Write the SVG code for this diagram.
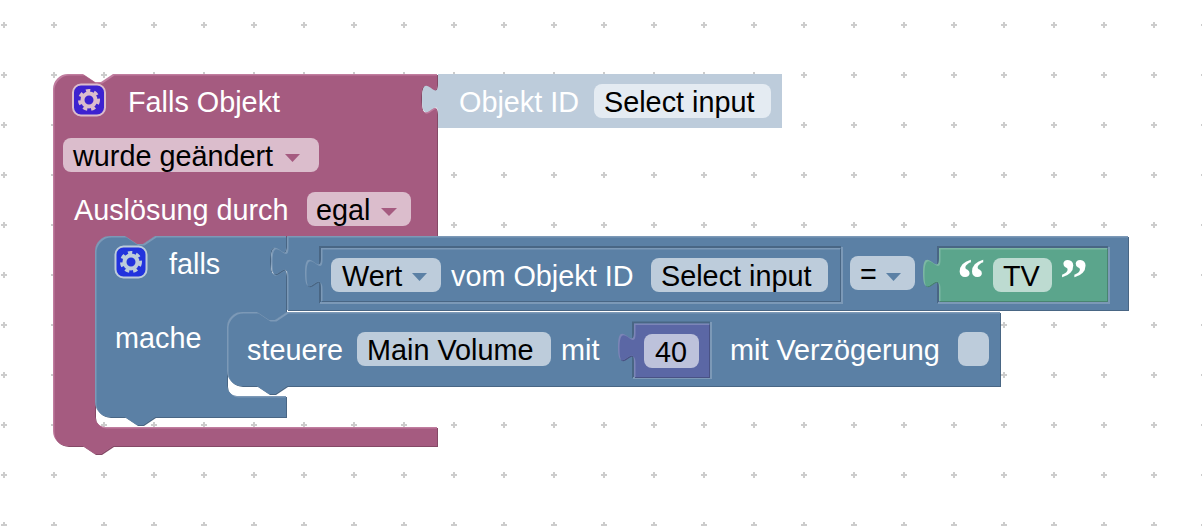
<svg xmlns="http://www.w3.org/2000/svg" width="1202" height="526" viewBox="0 0 1202 526">
<style>
text{font-family:"Liberation Sans",Arial,sans-serif;font-size:28.8px}
.w{fill:#fff}.k{fill:#000}
.pd{fill:#844966}.pl{fill:#c07d9f}.pm{fill:#a55b80}.pf{fill:#dbbdcc}.pa{fill:#a55b80}
.bd{fill:#496684}.bl{fill:#7c99b7}.bm{fill:#5b80a5}.bf{fill:#bdccdb}.ba{fill:#5b80a5}
.ud{fill:#495284}.ul{fill:#7c85b7}.um{fill:#5b67a5}.uf{fill:#bdc2db}
.gd{fill:#498470}.gl{fill:#7cb7a3}.gm{fill:#5ba58c}.gf{fill:#bddbd1}
.hd{fill:none;stroke:#496684;stroke-width:2}.hl{fill:none;stroke:#7c99b7;stroke-width:2}
.gear{fill:none;stroke-width:4}
.teeth{fill:none;stroke-width:4;stroke-dasharray:4.1 3.75}
.q{font-family:"Liberation Serif",serif;font-weight:bold;font-size:56px}
</style>
<defs>
<pattern id="grid" patternUnits="userSpaceOnUse" x="-21" y="0" width="50" height="50">
<path d="M22 25H28M25 22V28" stroke="#ccc" stroke-width="2" fill="none"/>
</pattern>
<path id="p-trigger" d="M53,89a15,15 0 0 1 15,-15H83l12,8h6l12,-8H437V84c0,20 -16,-16 -16,15s16,-5 16,15V236H155l-12,8h-6l-12,-8H110a15,15 0 0 0 -15,15V417a10,10 0 0 0 10,10H437V446H113l-12,8h-6l-12,-8H68a15,15 0 0 1 -15,-15z"/>
<path id="p-falls" d="M95,251a15,15 0 0 1 15,-15H125l12,8h6l12,-8H286V246c0,20 -16,-16 -16,15s16,-5 16,15V312h1l-12,8h-6l-12,-8H242a15,15 0 0 0 -15,15V386a10,10 0 0 0 10,10H286V417H155l-12,8h-6l-12,-8H110a15,15 0 0 1 -15,-15z"/>
<path id="p-compare" d="M287,236H1128V310H287V276c0,-20 -16,16 -16,-15s16,5 16,-15z"/>
<path id="p-wert" d="M321,248H840V301H321V288c0,-20 -16,16 -16,-15s16,5 16,-15z"/>
<path id="p-tv" d="M939,248H1107V301H939V288c0,-20 -16,16 -16,-15s16,5 16,-15z"/>
<path id="p-steuere" d="M227,327a15,15 0 0 1 15,-15H257l12,8h6l12,-8H1000V386H287l-12,8h-6l-12,-8H242a15,15 0 0 1 -15,-15z"/>
<path id="p-40" d="M634,323.500H709V377H634V362c0,-20 -16,16 -16,-15s16,5 16,-15z"/>
<clipPath id="c-trigger"><use href="#p-trigger"/></clipPath>
<clipPath id="c-falls"><use href="#p-falls"/></clipPath>
<clipPath id="c-compare"><use href="#p-compare"/></clipPath>
<clipPath id="c-wert"><use href="#p-wert"/></clipPath>
<clipPath id="c-tv"><use href="#p-tv"/></clipPath>
<clipPath id="c-steuere"><use href="#p-steuere"/></clipPath>
<clipPath id="c-40"><use href="#p-40"/></clipPath>
</defs>
<rect id="grid-bg" width="1202" height="526" fill="#fff"/>
<rect width="1202" height="526" fill="url(#grid)"/>

<g id="node-trigger">
<use href="#p-trigger" class="pd" transform="translate(1,1)"/>
<use href="#p-trigger" class="pl"/>
<g clip-path="url(#c-trigger)"><use href="#p-trigger" class="pm" transform="translate(1.5,1.5)"/></g>
<rect x="73" y="84.500" width="32" height="31" rx="8" fill="#3d22d0" stroke="#dbbdcc" stroke-width="2"/>
<circle cx="89" cy="100" r="6.500" class="gear" stroke="#dbbdcc"/>
<circle cx="89" cy="100" r="9" class="teeth" stroke="#dbbdcc"/>
<text x="128" y="112" class="w">Falls Objekt</text>
<rect x="63" y="138" width="256" height="34" rx="8" class="pf"/>
<text x="73" y="166" class="k">wurde geändert</text>
<path d="M285,154h15l-7.500,8z" class="pa"/>
<text x="74" y="220" class="w">Auslösung durch</text>
<rect x="307" y="192" width="104" height="34" rx="8" class="pf"/>
<text x="316" y="220" class="k">egal</text>
<path d="M381,208h16l-8,8z" class="pa"/>
</g>

<g id="node-objekt-id">
<path d="M438,74H782V128H438V114c0,-20 -16,16 -16,-15s16,5 16,-15z" fill="#bdccdb"/>
<text x="459" y="112" class="w">Objekt ID</text>
<rect x="594" y="84" width="177" height="34" rx="8" fill="#e4ebf2"/>
<text x="604" y="112" class="k">Select input</text>
</g>

<g id="node-falls">
<use href="#p-falls" class="bd" transform="translate(1,1)"/>
<use href="#p-falls" class="bl"/>
<g clip-path="url(#c-falls)"><use href="#p-falls" class="bm" transform="translate(1.5,1.5)"/></g>
<rect x="115.500" y="246.500" width="31" height="31" rx="8" fill="#2233dd" stroke="#bdccdb" stroke-width="2"/>
<circle cx="131" cy="262" r="6.500" class="gear" stroke="#bdccdb"/>
<circle cx="131" cy="262" r="9" class="teeth" stroke="#bdccdb"/>
<text x="169" y="274" class="w">falls</text>
<text x="115" y="348" class="w">mache</text>
</g>

<g id="node-compare">
<use href="#p-compare" class="bd" transform="translate(1,1)"/>
<use href="#p-compare" class="bl"/>
<g clip-path="url(#c-compare)"><use href="#p-compare" class="bm" transform="translate(1.5,1.5)"/></g>
<path d="M320,303V247H841" class="hd"/><path d="M320,303H842V247" class="hl"/>
<path d="M938,303V247H1108" class="hd"/><path d="M938,303H1109V247" class="hl"/>
<rect x="850" y="256" width="65" height="34" rx="8" class="bf"/>
<text x="860" y="284" class="k">=</text>
<path d="M886,273h15l-7.500,8z" class="ba"/>
</g>

<g id="node-wert">
<use href="#p-wert" class="bd" transform="translate(1,1)"/>
<use href="#p-wert" class="bl"/>
<g clip-path="url(#c-wert)"><use href="#p-wert" class="bm" transform="translate(1.500,1.500)"/></g>
<rect x="331" y="258" width="110" height="34" rx="8" class="bf"/>
<text x="342" y="286" class="k">Wert</text>
<path d="M412,273h15l-7.500,8z" class="ba"/>
<text x="451" y="286" class="w">vom Objekt ID</text>
<rect x="651" y="258" width="177" height="34" rx="8" class="bf"/>
<text x="661" y="286" class="k">Select input</text>
</g>

<g id="node-tv">
<use href="#p-tv" class="gd" transform="translate(1,1)"/>
<use href="#p-tv" class="gl"/>
<g clip-path="url(#c-tv)"><use href="#p-tv" class="gm" transform="translate(1.5,1.5)"/></g>
<text x="957" y="298" class="w q">“</text>
<rect x="993" y="258" width="59" height="34" rx="8" class="gf"/>
<text x="1003" y="286" class="k">TV</text>
<text x="1060" y="298" class="w q">”</text>
</g>

<g id="node-steuere">
<use href="#p-steuere" class="bd" transform="translate(1,1)"/>
<use href="#p-steuere" class="bl"/>
<g clip-path="url(#c-steuere)"><use href="#p-steuere" class="bm" transform="translate(1.5,1.5)"/></g>
<text x="247" y="360" class="w">steuere</text>
<rect x="357" y="332" width="194" height="34" rx="8" class="bf"/>
<text x="367" y="360" class="k">Main Volume</text>
<text x="561" y="360" class="w">mit</text>
<path d="M633,378V322.500H710" class="hd"/><path d="M633,378H711V322" class="hl"/>
<text x="730" y="360" class="w">mit Verzögerung</text>
<rect x="958" y="332" width="31" height="34" rx="8" class="bf"/>
</g>

<g id="node-40">
<use href="#p-40" class="ud" transform="translate(1,1)"/>
<use href="#p-40" class="ul"/>
<g clip-path="url(#c-40)"><use href="#p-40" class="um" transform="translate(1.5,1.5)"/></g>
<rect x="644" y="334" width="55" height="34" rx="8" class="uf"/>
<text x="671" y="362" class="k" text-anchor="middle">40</text>
</g>

<g id="connectors"/>
</svg>
